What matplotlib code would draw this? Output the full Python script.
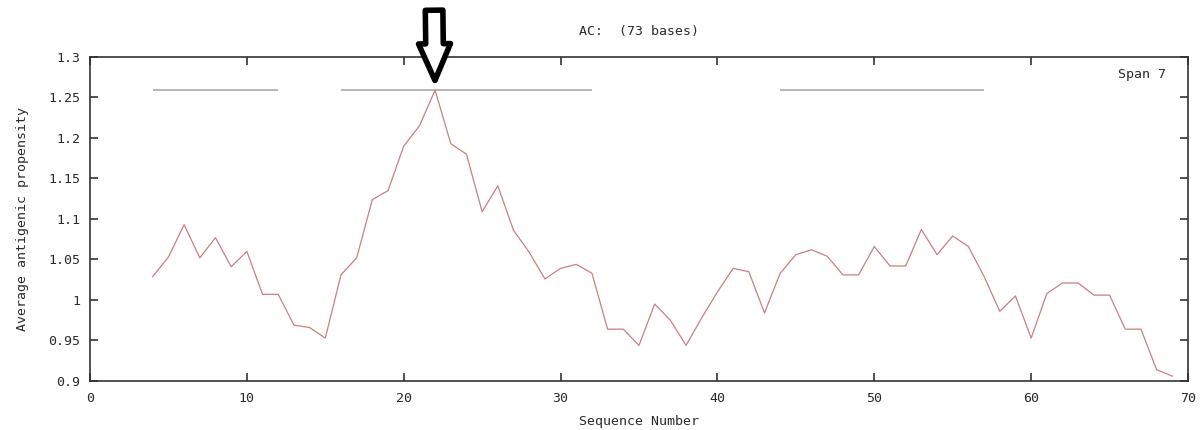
import matplotlib
matplotlib.use("Agg")
import matplotlib.pyplot as plt
import numpy as np

# sequence positions and averaged antigenic propensity (span 7)
positions = list(range(4, 70))
propensity = [
    1.029, 1.053, 1.093, 1.052, 1.077, 1.041, 1.060, 1.007, 1.007, 0.969,
    0.966, 0.953, 1.031, 1.052, 1.124, 1.135, 1.190, 1.215, 1.259, 1.193,
    1.180, 1.109, 1.141, 1.086, 1.059, 1.026, 1.039, 1.044, 1.033, 0.964,
    0.964, 0.944, 0.995, 0.975, 0.944, 0.978, 1.010, 1.039, 1.035, 0.984,
    1.033, 1.056, 1.062, 1.054, 1.031, 1.031, 1.066, 1.042, 1.042, 1.087,
    1.056, 1.079, 1.066, 1.029, 0.986, 1.005, 0.953, 1.008, 1.021, 1.021,
    1.006, 1.006, 0.964, 0.964, 0.914, 0.906,
]

# predicted antigenic regions (start, end) drawn at the peak level
region_starts = [4, 16, 44]
region_ends = [12, 32, 57]
region_level = 1.259

title = "AC:  (73 bases)"
span_label = "Span 7"

mono = "DejaVu Sans Mono"
plt.rcParams["font.family"] = mono
fs = 9.5
txt = "#2a2a2a"

fig = plt.figure(figsize=(12.01, 4.30), dpi=100)
ax = fig.add_axes([90 / 1201, 49 / 430, 1098 / 1201, 324 / 430])

ax.hlines([region_level] * len(region_starts), region_starts, region_ends,
          colors="#aaaaaa", linewidth=1.2)
ax.plot(positions, propensity, color="#c98080", linewidth=0.9)

ax.set_xlim(0, 70)
ax.set_ylim(0.9, 1.3)
ax.set_xticks(range(0, 71, 10))
ax.set_yticks(np.arange(0.9, 1.301, 0.05))
ax.set_yticklabels(["0.9", "0.95", "1", "1.05", "1.1", "1.15", "1.2", "1.25", "1.3"])
ax.tick_params(direction="in", length=6, width=1.2, color="#333333",
               top=True, right=True, labelsize=fs, colors=txt)
ax.tick_params(axis="y", pad=7)
ax.tick_params(axis="x", pad=8)
for s in ax.spines.values():
    s.set_color("#333333")
    s.set_linewidth(1.2)

ax.set_xlabel("Sequence Number", fontsize=fs, labelpad=7, color=txt)
ax.set_ylabel("Average antigenic propensity", fontsize=fs, labelpad=14, color=txt)
ax.set_title(title, fontsize=fs, pad=16, color=txt)
ax.text(0.98, 0.947, span_label, transform=ax.transAxes, ha="right", va="center",
        fontsize=fs, color=txt)

# hollow arrow marking the maximum
i_max = int(np.argmax(propensity))
ax.annotate("", xy=(positions[i_max], propensity[i_max]), xycoords="data",
            xytext=(-1, 80), textcoords="offset pixels", annotation_clip=False,
            arrowprops=dict(arrowstyle="simple,head_length=1.15,head_width=1.0,tail_width=0.55",
                            fc="white", ec="black", lw=4, mutation_scale=23,
                            shrinkA=0, shrinkB=7))

fig.savefig("out.png", dpi=100)
